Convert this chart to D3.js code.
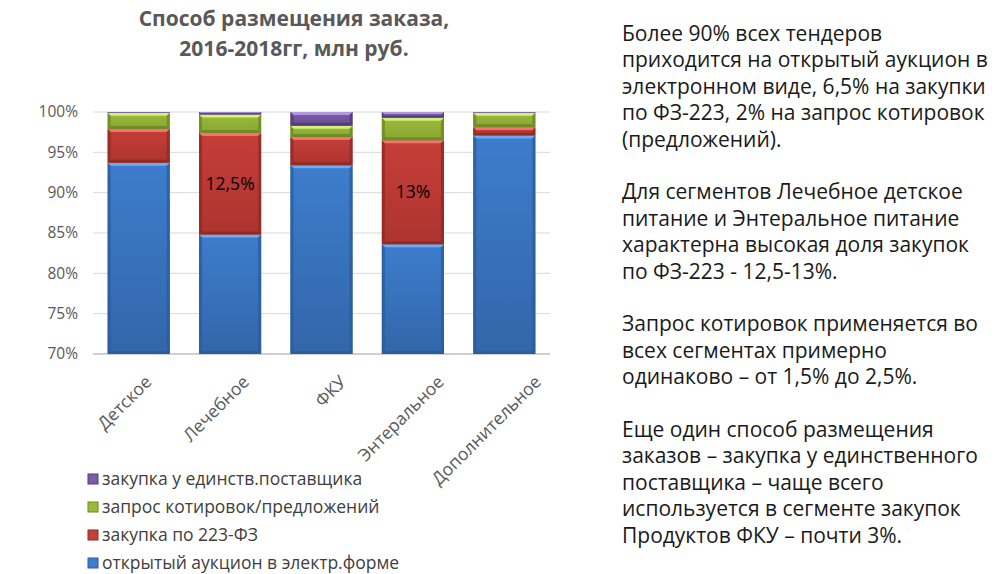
<!DOCTYPE html>
<html>
<head>
<meta charset="utf-8">
<script src="https://cdn.jsdelivr.net/npm/d3@7"></script>
<style>
  body { margin: 0; background: #fff; }
  svg { display: block; }
</style>
</head>
<body>
<div id="chart"></div>
<script>
// categories and series (shares, %)
var categories = ["Детское", "Лечебное", "ФКУ", "Энтеральное", "Дополнительное"];
var seriesNames = ["открытый аукцион в электр.форме", "закупка по 223-ФЗ", "запрос котировок/предложений", "закупка у единств.поставщика"];
var auction = [93.7, 84.8, 93.4, 83.6, 97.1];
var fz223 = [4.2, 12.6, 3.5, 12.9, 1.0];
var quotes = [2.0, 2.3, 1.4, 2.8, 1.8];
var single = [0.1, 0.3, 1.7, 0.7, 0.1];
var barLabels = ["", "12,5%", "", "13%", ""];
var yTicks = [70, 75, 80, 85, 90, 95, 100];

var paragraphs = [
  ["Более 90% всех тендеров", "приходится на открытый аукцион в", "электронном виде, 6,5% на закупки", "по ФЗ-223, 2% на запрос котировок", "(предложений)."],
  ["Для сегментов Лечебное детское", "питание и Энтеральное питание", "характерна высокая доля закупок", "по ФЗ-223 - 12,5-13%."],
  ["Запрос котировок применяется во", "всех сегментах примерно", "одинаково – от 1,5% до 2,5%."],
  ["Еще один способ размещения", "заказов – закупка у единственного", "поставщика – чаще всего", "используется в сегменте закупок", "Продуктов ФКУ – почти 3%."]
];

var colors = [
  {main: "#3d7dcc", light: "#6cacf2", dark: "#2b5d9c", low: "#3366aa"},
  {main: "#c63e38", light: "#f2746e", dark: "#8e2a25", low: "#ad3430"},
  {main: "#9aba3c", light: "#d6f07e", dark: "#6b8824", low: "#89a631"},
  {main: "#7b5ca8", light: "#b496e0", dark: "#523878", low: "#6a4e94"}
];

var width = 1008, height = 574;
var svg = d3.select("#chart").append("svg")
  .attr("width", width).attr("height", height);

var defs = svg.append("defs");
colors.forEach(function(c, i) {
  var g = defs.append("linearGradient").attr("id", "grad" + i)
    .attr("x1", 0).attr("y1", 0).attr("x2", 0).attr("y2", 1);
  g.append("stop").attr("offset", "0%").attr("stop-color", c.main);
  g.append("stop").attr("offset", "100%").attr("stop-color", c.low);
});

// plot area
var plot = {left: 93, right: 550, top: 112, bottom: 354};

var x = d3.scaleBand().domain(categories)
  .range([plot.left, plot.right]).paddingInner(0.32).paddingOuter(0.16);
var y = d3.scaleLinear().domain([70, 100])
  .range([plot.bottom, plot.top]).clamp(true);

// title
var title = svg.append("text")
  .attr("x", 294).attr("y", 26)
  .attr("text-anchor", "middle")
  .style("font-family", "'Open Sans', sans-serif")
  .style("font-size", "21px").style("font-weight", "bold")
  .style("fill", "#595959");
title.append("tspan").attr("x", 294).attr("dy", 0).text("Способ размещения заказа,");
title.append("tspan").attr("x", 294).attr("dy", 30).text("2016-2018гг, млн руб.");

// gridlines
svg.append("g").selectAll("line").data(yTicks).join("line")
  .attr("x1", plot.left).attr("x2", plot.right)
  .attr("y1", function(d) { return y(d); }).attr("y2", function(d) { return y(d); })
  .attr("stroke", function(d) { return d === 70 ? "#d0d0d0" : "#d9d9d9"; })
  .attr("stroke-width", function(d) { return d === 70 ? 2 : 1; });

// y axis labels
var yAxis = svg.append("g")
  .attr("transform", "translate(" + plot.left + ",0)")
  .call(d3.axisLeft(y).tickValues(yTicks).tickSize(0).tickPadding(15)
    .tickFormat(function(d) { return d + "%"; }));
yAxis.select(".domain").remove();
yAxis.selectAll("text")
  .style("font-family", "'Open Sans', sans-serif")
  .style("font-size", "15.5px").style("fill", "#595959");

// stacked data
var rows = categories.map(function(c, i) {
  return {cat: c, s0: auction[i], s1: fz223[i], s2: quotes[i], s3: single[i]};
});
var stack = d3.stack().keys(["s0", "s1", "s2", "s3"])(rows);

var bw = x.bandwidth();
stack.forEach(function(layer, li) {
  var c = colors[li];
  var g = svg.append("g");
  layer.forEach(function(d) {
    var x0 = x(d.data.cat);
    var yTop = y(d[1]), yBot = y(d[0]);
    var h = yBot - yTop;
    if (h <= 0) return;
    g.append("rect").attr("x", x0).attr("y", yTop)
      .attr("width", bw).attr("height", h)
      .attr("fill", "url(#grad" + li + ")");
    var b = Math.min(3, h / 3);
    // bevel: light top, dark sides & bottom
    g.append("path")
      .attr("d", "M" + x0 + "," + yTop + "H" + (x0 + bw) + "L" + (x0 + bw - b) + "," + (yTop + b) + "H" + (x0 + b) + "Z")
      .attr("fill", c.light);
    g.append("path")
      .attr("d", "M" + x0 + "," + yTop + "L" + (x0 + b) + "," + (yTop + b) + "V" + (yBot - b) + "L" + x0 + "," + yBot + "Z")
      .attr("fill", c.dark).attr("opacity", 0.8);
    g.append("path")
      .attr("d", "M" + (x0 + bw) + "," + yTop + "L" + (x0 + bw - b) + "," + (yTop + b) + "V" + (yBot - b) + "L" + (x0 + bw) + "," + yBot + "Z")
      .attr("fill", c.dark).attr("opacity", 0.8);
    g.append("path")
      .attr("d", "M" + x0 + "," + yBot + "L" + (x0 + b) + "," + (yBot - b) + "H" + (x0 + bw - b) + "L" + (x0 + bw) + "," + yBot + "Z")
      .attr("fill", c.dark).attr("opacity", 0.9);
  });
});

// data labels on red segments
svg.append("g").selectAll("text").data(stack[1]).join("text")
  .attr("x", function(d) { return x(d.data.cat) + bw / 2; })
  .attr("y", function(d) { return (y(d[0]) + y(d[1])) / 2; })
  .attr("dy", "0.35em")
  .attr("text-anchor", "middle")
  .style("font-family", "'Open Sans', sans-serif")
  .style("font-size", "17.5px").style("fill", "#000")
  .text(function(d, i) { return barLabels[i]; });

// category labels, rotated (drift right a little, like the original)
svg.append("g").selectAll("text").data(categories).join("text")
  .attr("transform", function(d, i) {
    return "translate(" + (x(d) + bw / 2 + 14 + i * 6) + "," + (plot.bottom + 29) + ") rotate(-45)";
  })
  .attr("text-anchor", "end")
  .style("font-family", "'Open Sans', sans-serif")
  .style("font-size", "17.5px").style("fill", "#595959")
  .text(function(d) { return d; });

// legend (top to bottom: reversed series)
var legendOrder = [3, 2, 1, 0];
var legend = svg.append("g").selectAll("g").data(legendOrder).join("g")
  .attr("transform", function(d, i) { return "translate(88," + (479 + i * 28) + ")"; });
legend.append("rect").attr("x", 0).attr("y", -5).attr("width", 10).attr("height", 10)
  .attr("fill", function(d) { return colors[d].main; })
  .attr("stroke", function(d) { return colors[d].dark; }).attr("stroke-width", 1);
legend.append("text").attr("x", 14).attr("dy", "0.35em")
  .style("font-family", "'Open Sans', sans-serif")
  .style("font-size", "17.5px").style("fill", "#404040")
  .text(function(d) { return seriesNames[d]; });

// commentary text on the right
var lines = [];
paragraphs.forEach(function(p, pi) {
  if (pi > 0) lines.push("");
  p.forEach(function(l) { lines.push(l); });
});
svg.append("g").selectAll("text").data(lines).join("text")
  .attr("x", 622)
  .attr("y", function(d, i) { return 41 + i * 26.4; })
  .style("font-family", "'Open Sans', sans-serif")
  .style("font-size", "21px").style("fill", "#1a1a1a")
  .text(function(d) { return d; });
</script>
</body>
</html>
